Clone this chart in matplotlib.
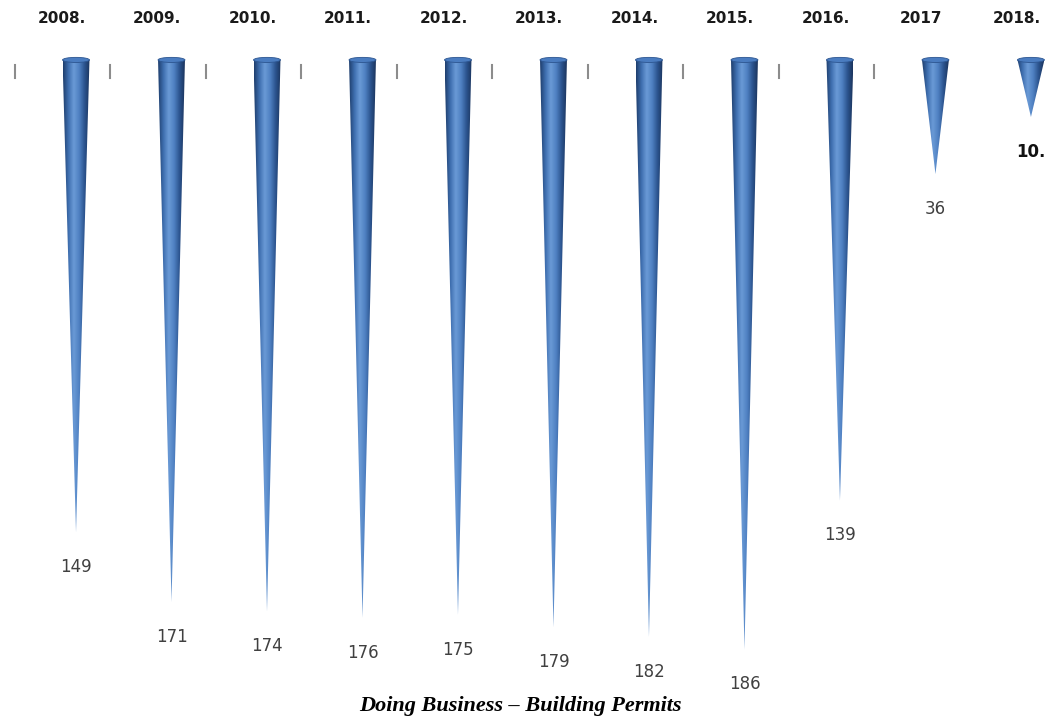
import matplotlib
import numpy as np

matplotlib.use("Agg")
from matplotlib import pyplot as plt  # noqa: E402
from matplotlib.colors import LinearSegmentedColormap  # noqa: E402
from matplotlib.patches import Ellipse, Polygon  # noqa: E402

years = ["2008.", "2009.", "2010.", "2011.", "2012.", "2013.", "2014.", "2015.", "2016.", "2017", "2018."]
ranks = [149, 171, 174, 176, 175, 179, 182, 186, 139, 36, 10]
rank_labels = ["149", "171", "174", "176", "175", "179", "182", "186", "139", "36", "10."]
title = "Doing Business – Building Permits"

shade = LinearSegmentedColormap.from_list(
    "cone", ["#1f3f6e", "#3f6fb0", "#6a9ad6", "#4f81c2", "#2c5590", "#1c355e"]
)

fig = plt.figure(figsize=(10.51, 7.24), dpi=100)
ax = fig.add_axes([0, 0, 1, 1])
ax.set_xlim(-0.796, 10.21)
ax.set_ylim(209.5, -18.9)
ax.axis("off")

half = 0.141
grad = np.linspace(0, 1, 64).reshape(1, -1)
for i, (year, rank, label) in enumerate(zip(years, ranks, rank_labels)):
    tip = max(rank, 18) if i == len(years) - 1 else rank
    cone = Polygon([(i - half, 0), (i + half, 0), (i, tip)], closed=True,
                   facecolor="none", edgecolor="none")
    ax.add_patch(cone)
    img = ax.imshow(grad, cmap=shade, aspect="auto", interpolation="bilinear",
                    extent=(i - half, i + half, tip, 0), zorder=2)
    img.set_clip_path(cone)
    ax.add_patch(Ellipse((i, 0), 2 * half, 1.6, facecolor="#4a7cc0",
                         edgecolor="#2c5590", linewidth=0.6, zorder=3))

    ax.text(i - 0.15, -13.2, year, ha="center", va="center", fontsize=11,
            fontweight="bold", family=["Liberation Sans Narrow", "DejaVu Sans"],
            color="#1a1a1a")
    if i < 10:
        ax.plot([i - 0.64, i - 0.64], [1.6, 5.7], color="#8c8c8c", linewidth=1.5)

    bold = label.endswith(".")
    ax.text(i, tip + 11, label, ha="center", va="center", fontsize=12,
            fontweight="bold" if bold else "normal",
            family=["Liberation Sans Narrow", "DejaVu Sans"],
            color="#111111" if bold else "#404040")

fig.text(0.495, 0.025, title, ha="center", va="center", fontsize=16,
         fontweight="bold", fontstyle="italic", family="Liberation Serif")

fig.savefig("out.png", dpi=100)
